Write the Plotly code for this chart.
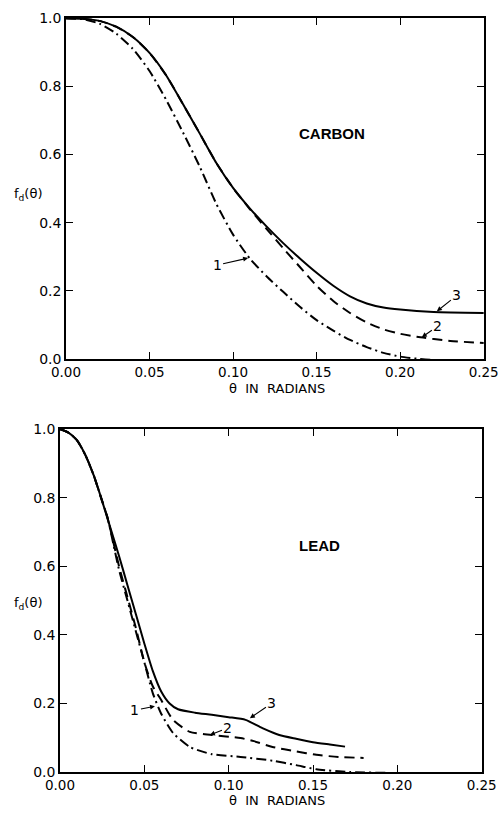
import plotly.graph_objects as go

# ---------------- DATA ----------------
# CARBON panel
carbon_x3 = [0.0, 0.01, 0.02, 0.03, 0.04, 0.05, 0.06, 0.07, 0.08, 0.09, 0.10, 0.11, 0.12, 0.13, 0.14, 0.15, 0.16, 0.17, 0.18, 0.19, 0.20, 0.22, 0.25]
carbon_y3 = [1.0, 0.998, 0.992, 0.975, 0.945, 0.898, 0.832, 0.748, 0.662, 0.575, 0.502, 0.442, 0.389, 0.340, 0.295, 0.253, 0.215, 0.184, 0.163, 0.151, 0.145, 0.138, 0.135]

carbon_x2 = [0.0, 0.01, 0.02, 0.03, 0.04, 0.05, 0.06, 0.07, 0.08, 0.09, 0.10, 0.11, 0.12, 0.13, 0.14, 0.15, 0.16, 0.17, 0.18, 0.19, 0.20, 0.21, 0.23, 0.25]
carbon_y2 = [1.0, 0.998, 0.992, 0.975, 0.945, 0.898, 0.832, 0.748, 0.662, 0.575, 0.502, 0.440, 0.382, 0.325, 0.27, 0.215, 0.170, 0.135, 0.107, 0.087, 0.074, 0.065, 0.053, 0.047]

carbon_x1 = [0.0, 0.01, 0.02, 0.03, 0.04, 0.05, 0.06, 0.07, 0.08, 0.09, 0.10, 0.11, 0.12, 0.13, 0.14, 0.15, 0.16, 0.17, 0.18, 0.19, 0.20, 0.21, 0.22, 0.25]
carbon_y1 = [1.0, 0.997, 0.984, 0.955, 0.91, 0.845, 0.76, 0.665, 0.565, 0.455, 0.365, 0.295, 0.243, 0.197, 0.153, 0.114, 0.083, 0.056, 0.035, 0.018, 0.007, 0.001, -0.003, -0.006]

# LEAD panel
lead_x3 = [0.0, 0.005, 0.010, 0.015, 0.020, 0.025, 0.030, 0.035, 0.040, 0.045, 0.050, 0.055, 0.060, 0.065, 0.070, 0.080, 0.090, 0.100, 0.110, 0.120, 0.130, 0.140, 0.150, 0.160, 0.169]
lead_y3 = [1.0, 0.99, 0.968, 0.925, 0.865, 0.79, 0.71, 0.63, 0.545, 0.46, 0.375, 0.295, 0.235, 0.20, 0.183, 0.173, 0.167, 0.16, 0.152, 0.128, 0.108, 0.097, 0.087, 0.080, 0.074]

lead_x2 = [0.0, 0.005, 0.010, 0.015, 0.020, 0.025, 0.028, 0.035, 0.040, 0.045, 0.050, 0.055, 0.060, 0.067, 0.077, 0.090, 0.107, 0.115, 0.126, 0.140, 0.152, 0.165, 0.180]
lead_y2 = [1.0, 0.99, 0.968, 0.925, 0.865, 0.79, 0.745, 0.60, 0.51, 0.42, 0.32, 0.25, 0.21, 0.152, 0.117, 0.108, 0.099, 0.09, 0.073, 0.06, 0.05, 0.044, 0.041]

lead_x1 = [0.0, 0.005, 0.010, 0.015, 0.020, 0.025, 0.028, 0.035, 0.040, 0.045, 0.050, 0.055, 0.060, 0.067, 0.077, 0.090, 0.107, 0.126, 0.140, 0.152, 0.172, 0.200, 0.250]
lead_y1 = [1.0, 0.99, 0.968, 0.925, 0.865, 0.79, 0.745, 0.59, 0.50, 0.41, 0.32, 0.23, 0.17, 0.114, 0.073, 0.052, 0.044, 0.033, 0.02, 0.008, 0.0, -0.003, -0.008]

x_ticks = [0.0, 0.05, 0.10, 0.15, 0.20, 0.25]
x_tick_labels = ["0.00", "0.05", "0.10", "0.15", "0.20", "0.25"]
y_ticks = [0.0, 0.2, 0.4, 0.6, 0.8, 1.0]
y_tick_labels = ["0.0", "0.2", "0.4", "0.6", "0.8", "1.0"]

panel_names = ["CARBON", "LEAD"]
x_title = "θ  IN  RADIANS"
y_title = "f<sub>d</sub>(θ)"

# ---------------- FIGURE ----------------
W, H = 498, 813
FONT = "DejaVu Sans"
fig = go.Figure()

styles = {
    "3": dict(color="black", width=2, dash="solid"),
    "2": dict(color="black", width=2, dash="10px,6px"),
    "1": dict(color="black", width=2, dash="10px,4px,2px,4px"),
}

def add_curves(curves, xa, ya):
    for key, (x, y) in curves.items():
        fig.add_trace(go.Scatter(x=x, y=y, mode="lines", xaxis=xa, yaxis=ya,
                                 line=dict(shape="spline", smoothing=0.6, **styles[key]),
                                 showlegend=False, hoverinfo="skip"))

add_curves({"3": (carbon_x3, carbon_y3), "2": (carbon_x2, carbon_y2), "1": (carbon_x1, carbon_y1)}, "x", "y")
add_curves({"3": (lead_x3, lead_y3), "2": (lead_x2, lead_y2), "1": (lead_x1, lead_y1)}, "x2", "y2")

axis_common = dict(showgrid=False, zeroline=False, showline=True, linecolor="black", linewidth=1.6,
                   mirror="ticks", ticks="inside", ticklen=7, tickwidth=1.4, tickcolor="black",
                   ticklabeloverflow="allow", automargin=False)
xfont = dict(family=FONT, size=13.5, color="black")
yfont = dict(family=FONT, size=14, color="black")

top_x = [66 / W, 484 / W]
top_y = [1 - 359 / H, 1 - 18 / H]
bot_x = [60 / W, 482 / W]
bot_y = [1 - 772 / H, 1 - 429 / H]

XR = [0, 0.2502]
YR = [0, 1.0005]
fig.update_layout(
    width=W, height=H, margin=dict(l=0, r=0, t=0, b=0),
    paper_bgcolor="white", plot_bgcolor="white",
    xaxis=dict(domain=top_x, range=XR, tickvals=x_ticks, ticktext=x_tick_labels, anchor="y", tickfont=xfont, **axis_common),
    yaxis=dict(domain=top_y, range=YR, tickvals=y_ticks, ticktext=y_tick_labels, anchor="x", tickfont=yfont, **axis_common),
    xaxis2=dict(domain=bot_x, range=XR, tickvals=x_ticks, ticktext=x_tick_labels, anchor="y2", tickfont=xfont, **axis_common),
    yaxis2=dict(domain=bot_y, range=YR, tickvals=y_ticks, ticktext=y_tick_labels, anchor="x2", tickfont=yfont, **axis_common),
)

ann = []
txt_font = dict(family=FONT, size=13, color="black")

def paper_text(text, px, py, font):
    return dict(text=text, x=px / W, y=1 - py / H, xref="paper", yref="paper",
                xanchor="center", yanchor="middle", showarrow=False, font=font)

label_font = dict(family="Liberation Sans", size=15, color="black")
ann.append(paper_text("<b>" + panel_names[0] + "</b>", 332, 133, label_font))
ann.append(paper_text("<b>" + panel_names[1] + "</b>", 319, 545, label_font))
for yy in (389, 800):
    ann.append(paper_text(x_title, 277, yy, txt_font))
for yy in (194, 603):
    ann.append(paper_text(y_title, 28, yy, txt_font))

# curve labels with arrows (tip in data coords, text offset in px)
arrow_labels = [
    ("3", 0.222, 0.140, 20, -16, "x", "y"),
    ("2", 0.213, 0.064, 16, -11, "x", "y"),
    ("1", 0.109, 0.296, -31, 7, "x", "y"),
    ("1", 0.0563, 0.192, -20, 4, "x2", "y2"),
    ("2", 0.0889, 0.108, 18, -7, "x2", "y2"),
    ("3", 0.1126, 0.157, 22, -15, "x2", "y2"),
]
for t, x, y, ax, ay, xr, yr in arrow_labels:
    ann.append(dict(text=t, x=x, y=y, xref=xr, yref=yr, ax=ax, ay=ay, showarrow=True,
                    arrowhead=2, arrowsize=0.9, arrowwidth=1.1, arrowcolor="black", standoff=0,
                    font=dict(family=FONT, size=14, color="black")))

fig.update_layout(annotations=ann)
fig.write_html("out.html")
